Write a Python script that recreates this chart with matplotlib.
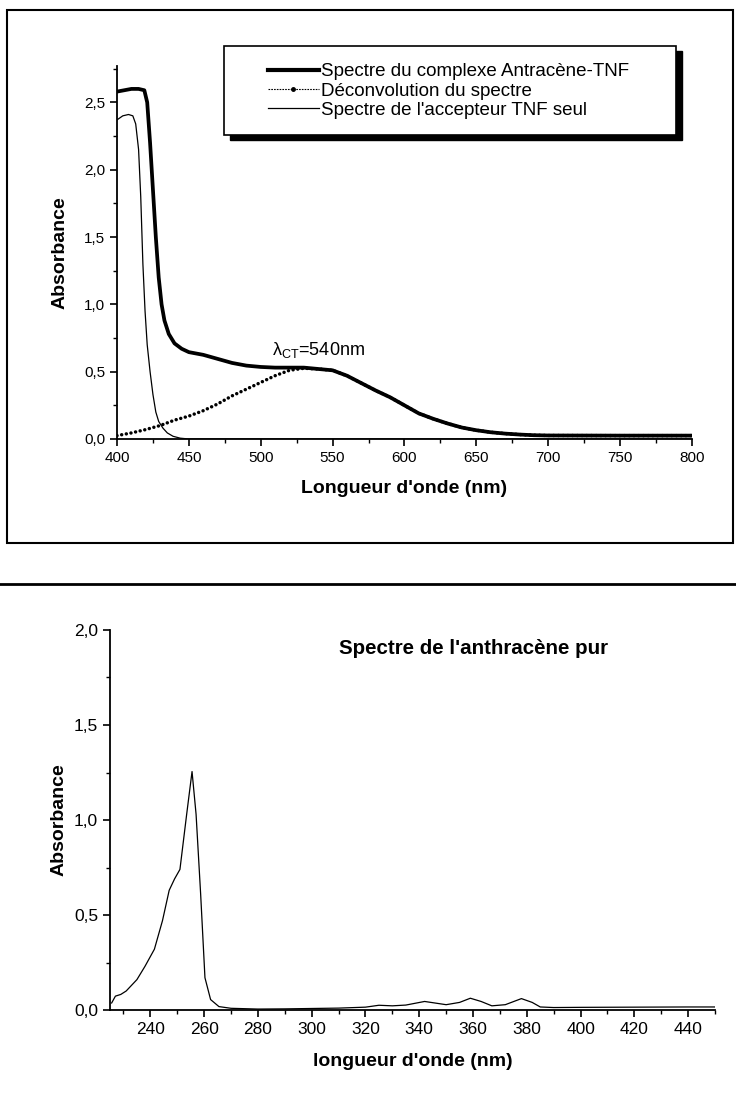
import numpy as np
import matplotlib.pyplot as plt
from matplotlib.ticker import MultipleLocator, FuncFormatter
from matplotlib.lines import Line2D
from matplotlib.patches import Rectangle

plt.rcParams['font.family'] = ['Liberation Sans', 'DejaVu Sans']
plt.rcParams['mathtext.fontset'] = 'custom'
plt.rcParams['mathtext.rm'] = 'Liberation Sans'

###Data

#Spectre du complexe Antracene-TNF
wl_complexe = [400, 405, 410, 415, 419, 421, 423, 425, 427, 429, 431, 433, 436, 440, 445, 450,
               460, 470, 480, 490, 500, 510, 520, 530, 540, 550, 560, 570, 580, 590, 600,
               610, 620, 630, 640, 650, 660, 670, 680, 690, 700, 750, 800]
abs_complexe = [2.58, 2.59, 2.60, 2.60, 2.59, 2.50, 2.20, 1.85, 1.50, 1.20, 1.00, 0.88, 0.78, 0.71, 0.67, 0.645,
                0.625, 0.595, 0.565, 0.545, 0.535, 0.53, 0.53, 0.53, 0.52, 0.51, 0.47, 0.415, 0.36, 0.31, 0.25,
                0.19, 0.15, 0.115, 0.085, 0.065, 0.05, 0.04, 0.033, 0.028, 0.026, 0.025, 0.025]

#Deconvolution du spectre
wl_deconv = [400, 410, 420, 430, 440, 450, 460, 470, 480, 490, 500, 510, 520, 530, 540, 550, 560, 570,
             580, 590, 600, 610, 620, 630, 640, 650, 660, 670, 680, 690, 700, 750, 800]
abs_deconv = [0.025, 0.045, 0.07, 0.10, 0.14, 0.17, 0.21, 0.26, 0.32, 0.37, 0.42, 0.47, 0.51, 0.525, 0.52, 0.51, 0.47, 0.415,
              0.36, 0.31, 0.25, 0.19, 0.15, 0.115, 0.085, 0.065, 0.05, 0.04, 0.033, 0.028, 0.026, 0.025, 0.025]

#Spectre de l'accepteur TNF seul
wl_tnf = [400, 404, 408, 411, 413, 415, 416.5, 418, 419.5, 421, 423, 425, 427, 429, 432, 435, 439, 444, 450, 500, 600, 700, 800]
abs_tnf = [2.37, 2.40, 2.41, 2.40, 2.34, 2.15, 1.80, 1.30, 0.95, 0.70, 0.50, 0.33, 0.20, 0.13, 0.08, 0.045, 0.02, 0.006, 0.0, 0.0, 0.0, 0.0, 0.0]

#Spectre de l'anthracene pur
wl_anthra = [225.6, 227, 229, 231, 235, 238, 241.5, 244.5, 247, 249, 251, 253.5, 255.5, 257, 258.7, 260.3,
             262.4, 265.5, 270, 280, 290, 300, 310, 320, 325, 330, 335, 342, 350, 355, 359, 363, 367,
             372, 378, 382, 385, 390, 400, 420, 440, 450]
abs_anthra = [0.037, 0.073, 0.082, 0.10, 0.16, 0.23, 0.32, 0.47, 0.63, 0.69, 0.74, 1.03, 1.255, 1.03, 0.61, 0.17,
              0.055, 0.018, 0.009, 0.005, 0.006, 0.008, 0.01, 0.015, 0.025, 0.022, 0.026, 0.045, 0.028, 0.04, 0.062, 0.045, 0.022,
              0.028, 0.06, 0.04, 0.016, 0.013, 0.014, 0.015, 0.016, 0.016]

legend_labels = ['Spectre du complexe Antracène-TNF', 'Déconvolution du spectre', "Spectre de l'accepteur TNF seul"]

comma = FuncFormatter(lambda v, p: ('%.1f' % v).replace('.', ','))


def style_axes(ax, lsize):
    ax.spines['top'].set_visible(False)
    ax.spines['right'].set_visible(False)
    ax.spines['left'].set_linewidth(1.3)
    ax.spines['bottom'].set_linewidth(1.3)
    ax.tick_params(which='major', direction='out', length=5, width=1.2, labelsize=lsize)
    ax.tick_params(which='minor', direction='out', length=3, width=1.0)
    ax.yaxis.set_major_formatter(comma)


fig = plt.figure(figsize=(7.36, 11.19), dpi=100)
H = 1119.0
W = 736.0

###Top panel
ax1 = fig.add_axes([0.159, 0.6077, 0.781, 0.3333])
ax1.plot(wl_complexe, abs_complexe, color='black', linewidth=2.7, solid_joinstyle='round')
ax1.plot(wl_deconv, abs_deconv, color='black', linewidth=2.5, linestyle=(0, (0.01, 1.35)),
         dash_capstyle='round')
ax1.plot(wl_tnf, abs_tnf, color='black', linewidth=0.9)

ax1.set_xlim(400, 800)
ax1.set_ylim(0, 2.77)
ax1.xaxis.set_major_locator(MultipleLocator(50))
ax1.xaxis.set_minor_locator(MultipleLocator(25))
ax1.yaxis.set_major_locator(MultipleLocator(0.5))
ax1.yaxis.set_minor_locator(MultipleLocator(0.25))
style_axes(ax1, 11)
ax1.set_xlabel("Longueur d'onde (nm)", fontsize=14, fontweight='bold', labelpad=11)
ax1.set_ylabel('Absorbance', fontsize=14, fontweight='bold', labelpad=11)
ax1.text(508, 0.59, 'λ$_{\\mathrm{CT}}$=540nm', fontsize=13, ha='left', va='bottom')

#Legend: box + heavy offset shadow drawn by hand, entries without frame
fig.add_artist(Rectangle((230 / W, 1 - 140 / H), 452 / W, 89 / H, transform=fig.transFigure,
                         facecolor='black', edgecolor='black', zorder=3))
fig.add_artist(Rectangle((224 / W, 1 - 135 / H), 452 / W, 89 / H, transform=fig.transFigure,
                         facecolor='white', edgecolor='black', linewidth=1.2, zorder=3.1))
h_cpx = Line2D([], [], color='black', linewidth=3.0)
h_dec = Line2D([], [], color='black', linewidth=0.8, linestyle=(0, (1.5, 1.0)), marker='o', markersize=2.5)
h_tnf = Line2D([], [], color='black', linewidth=0.9)
leg = fig.legend([h_cpx, h_dec, h_tnf], legend_labels,
                 loc='upper left', bbox_to_anchor=(268 / W, 1 - 63 / H),
                 bbox_transform=fig.transFigure, fontsize=13.5, frameon=False,
                 handlelength=2.7, handletextpad=0.15, labelspacing=0.12,
                 borderpad=0, borderaxespad=0)
leg.set_zorder(5)

###Bottom panel
ax2 = fig.add_axes([0.1495, 0.0974, 0.822, 0.3396])
ax2.plot(wl_anthra, abs_anthra, color='black', linewidth=0.9)
ax2.set_xlim(225, 450)
ax2.set_ylim(0, 2.0)
ax2.xaxis.set_major_locator(MultipleLocator(20))
ax2.xaxis.set_minor_locator(MultipleLocator(10))
ax2.yaxis.set_major_locator(MultipleLocator(0.5))
ax2.yaxis.set_minor_locator(MultipleLocator(0.25))
style_axes(ax2, 12.5)
ax2.set_xlabel("longueur d'onde (nm)", fontsize=14, fontweight='bold', labelpad=12)
ax2.set_ylabel('Absorbance', fontsize=14, fontweight='bold', labelpad=5)
ax2.text(360, 1.9, "Spectre de l'anthracène pur", fontsize=14.8, fontweight='bold', ha='center', va='center')

###Frame around the top figure and rule above the bottom one
fig.add_artist(Rectangle((0.0095, 0.5147), 0.987, 0.4763, transform=fig.transFigure,
                         fill=False, edgecolor='black', linewidth=1.5))
fig.add_artist(Line2D([0.0, 1.0], [1 - 584 / H, 1 - 584 / H], transform=fig.transFigure,
                      color='black', linewidth=2.0))

plt.savefig('out.png', dpi=100)
